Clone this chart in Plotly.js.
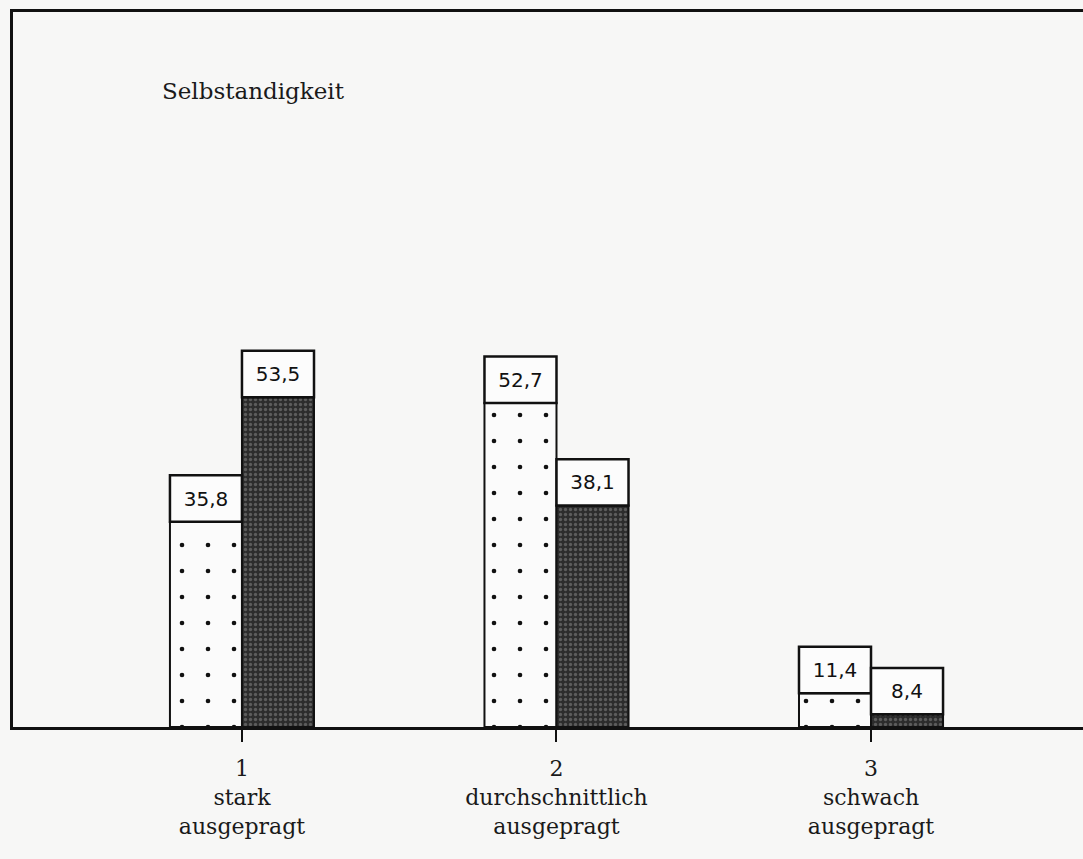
<!DOCTYPE html>
<html>
<head>
<meta charset="utf-8">
<script src="https://cdn.plot.ly/plotly-3.0.1.min.js"></script>
<style>html,body{margin:0;padding:0;background:#f7f7f6;}</style>
</head>
<body>
<div id="chart" style="width:1083px;height:859px;"></div>
<script>
// Data
const categories = [1, 2, 3];
const categoryLabels = ["stark", "durchschnittlich", "schwach"];
const categorySub = ["ausgepragt", "ausgepragt", "ausgepragt"];
const seriesDotted = [35.8, 52.7, 11.4];
const seriesDark = [53.5, 38.1, 8.4];
const chartTitle = "Selbstandigkeit";

// Style
const boxH = 6.6;      // label box height (data units)
const barW = 0.229;
const fmt = v => v.toFixed(1).replace('.', ',');

function lowerPart(vals) { return vals.map(v => v - boxH); }

const traces = [
  { type: 'bar', x: categories, y: lowerPart(seriesDotted), width: barW, offset: -barW,
    marker: { color: '#fbfbfb', line: { color: '#111', width: 2 },
      pattern: { shape: '.', fgcolor: '#111', bgcolor: '#fbfbfb', size: 26, solidity: 0.025 } },
    hoverinfo: 'skip' },
  { type: 'bar', x: categories, y: lowerPart(seriesDark), width: barW, offset: 0,
    marker: { color: '#353535', line: { color: '#111', width: 2 },
      pattern: { shape: '.', fgcolor: '#5c5c5c', bgcolor: '#2c2c2c', size: 5, solidity: 0.35 } },
    hoverinfo: 'skip' },
  { type: 'bar', x: categories, y: seriesDotted.map(() => boxH), base: lowerPart(seriesDotted),
    width: barW, offset: -barW,
    marker: { color: '#fcfcfc', line: { color: '#111', width: 2.5 } },
    text: seriesDotted.map(fmt), textposition: 'inside', insidetextanchor: 'middle',
    constraintext: 'none',
    textfont: { family: 'DejaVu Sans', size: 20, color: '#111' }, hoverinfo: 'skip' },
  { type: 'bar', x: categories, y: seriesDark.map(() => boxH), base: lowerPart(seriesDark),
    width: barW, offset: 0,
    marker: { color: '#fcfcfc', line: { color: '#111', width: 2.5 } },
    text: seriesDark.map(fmt), textposition: 'inside', insidetextanchor: 'middle',
    constraintext: 'none',
    textfont: { family: 'DejaVu Sans', size: 20, color: '#111' }, hoverinfo: 'skip' }
];

const layout = {
  width: 1083, height: 859,
  margin: { l: 13, r: 0, t: 12, b: 132 },
  paper_bgcolor: '#f7f7f6', plot_bgcolor: '#f7f7f6',
  barmode: 'overlay',
  showlegend: false,
  xaxis: {
    range: [0.272, 3.674], tickvals: categories,
    ticktext: categories.map((c, i) => c + '<br>' + categoryLabels[i] + '<br>' + categorySub[i]),
    ticks: 'outside', ticklen: 12, tickwidth: 2, tickcolor: '#111',
    ticklabelstandoff: 8,
    showline: true, linecolor: '#111', linewidth: 3, mirror: true,
    showgrid: false, zeroline: false,
    tickfont: { family: 'DejaVu Serif', size: 22, color: '#1a1a1a' }
  },
  yaxis: {
    range: [0, 101.7], showline: true, linecolor: '#111', linewidth: 3,
    showticklabels: false, ticks: '', showgrid: false, zeroline: false
  },
  annotations: [{
    xref: 'paper', yref: 'paper', x: 0.137, y: 0.89, xanchor: 'left', yanchor: 'middle',
    text: chartTitle, showarrow: false,
    font: { family: 'DejaVu Serif', size: 23, color: '#1a1a1a' }
  }]
};

Plotly.newPlot('chart', traces, layout, { displayModeBar: false, staticPlot: true });
</script>
</body>
</html>
